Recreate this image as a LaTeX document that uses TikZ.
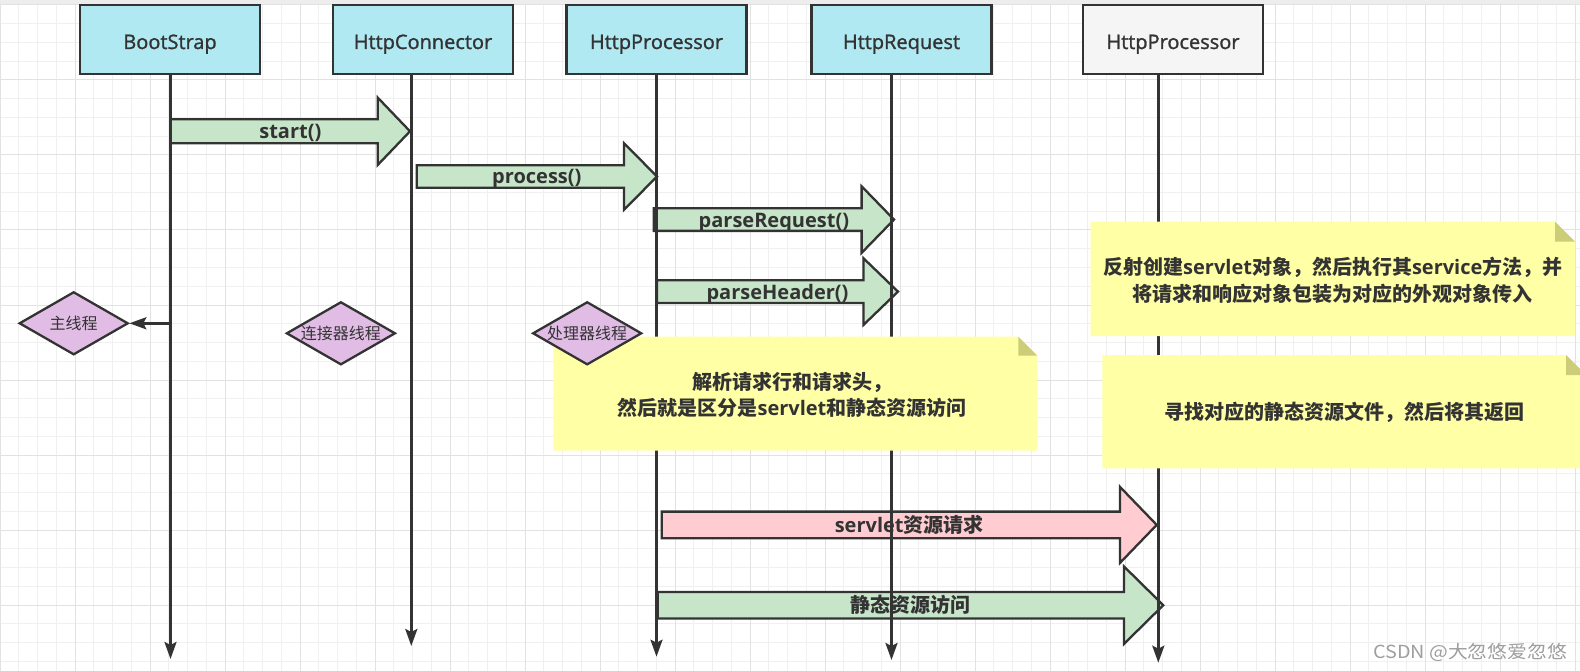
\documentclass[tikz,border=0pt]{standalone}
\usepackage{fontspec}
\setmainfont{Open Sans}
\newfontfamily\cjk{Noto Sans CJK SC}
\newfontfamily\boxlabelfont{Open Sans}[FakeBold=1.3]
\newfontfamily\wmfont{Noto Sans CJK SC}[FakeStretch=1.1]
\usetikzlibrary{arrows.meta,shapes.geometric}
\definecolor{cyanfill}{HTML}{B0E9F2}
\definecolor{greyfill}{HTML}{F5F5F5}
\definecolor{edge}{HTML}{333333}
\definecolor{txt}{HTML}{333333}
\definecolor{greenfill}{HTML}{C7E5C9}
\definecolor{pinkfill}{HTML}{FFCCD1}
\definecolor{purplefill}{HTML}{E1BDE6}
\definecolor{notefill}{HTML}{FFFFA6}
\definecolor{foldfill}{HTML}{CDCD79}
\definecolor{gridminor}{HTML}{F0F0F0}
\definecolor{gridmajor}{HTML}{E2E2E2}
\definecolor{topstrip}{HTML}{EDEDED}
\definecolor{wmcol}{HTML}{9E9E9E}
\newcommand{\zhs}[1]{{\cjk #1}}
% block arrow: #1 fill, #2 x start, #3 x head base, #4 x tip, #5 y centre, #6 bar half height, #7 head half height, #8 node name, #9 label
\newcommand{\blockarrow}[9]{%
  \draw[blockshape, fill=#1] (#2,#5-#6) -- (#3,#5-#6) -- (#3,#5-#7) -- (#4,#5) -- (#3,#5+#7) -- (#3,#5+#6) -- (#2,#5+#6) -- cycle;
  \node[arrlabel] (#8) at ({(#2+#4)/2},#5+7.5) {#9};}
% note: #1 x1, #2 y1, #3 x2, #4 y2, #5 fold
\newcommand{\notebg}[5]{%
  \fill[notefill] (#1,#2) -- (#3-#5,#2) -- (#3,#2+#5) -- (#3,#4) -- (#1,#4) -- cycle;
  \fill[foldfill] (#3-#5,#2) -- (#3-#5,#2+#5) -- (#3,#2+#5) -- cycle;}
\tikzset{
  box/.style={draw=edge, line width=2.3pt, minimum width=180pt, minimum height=69pt, inner sep=0pt,
    text=txt, font=\boxlabelfont\fontsize{20}{24}\selectfont, text height=19pt, text depth=0pt},
  lifeline/.style={draw=edge, line width=2.6pt, -{Stealth[length=17pt,width=12pt,inset=3pt]}},
  blockshape/.style={draw=edge, line width=2.3pt, line join=miter},
  arrlabel/.style={text=txt, font=\fontsize{20}{24}\selectfont\bfseries, inner sep=0pt, anchor=base},
  decision/.style={diamond, draw=edge, line width=2.3pt, fill=purplefill, minimum width=109pt, minimum height=63pt, inner sep=0pt},
  dtext/.style={text=txt, font=\cjk\fontsize{16}{18}\selectfont, inner sep=0pt},
  notetext/.style={text=txt, font=\fontsize{20}{26.7}\selectfont\bfseries, align=center, inner sep=0pt},
}
\begin{document}
\begin{tikzpicture}[x=1pt,y=-1pt]
\useasboundingbox (0,0) rectangle (1580,671);
\fill[white] (0,0) rectangle (1580,671);
% grid
\foreach \i in {0,...,84} \draw[gridminor, line width=1pt] (\i*18.75,5) -- (\i*18.75,671);
\foreach \j in {0,...,36} \draw[gridminor, line width=1pt] (0,5+\j*18.75) -- (1580,5+\j*18.75);
\foreach \i in {0,...,21} \draw[gridmajor, line width=1pt] (\i*75,5) -- (\i*75,671);
\foreach \j in {0,...,9} \draw[gridmajor, line width=1pt] (0,5+\j*75) -- (1580,5+\j*75);
\fill[topstrip] (0,0) rectangle (1580,4);

% participant boxes
\node[box, fill=cyanfill] (bs) at (170,39.5) {BootStrap};
\node[box, fill=cyanfill] (hc) at (423,39.5) {HttpConnector};
\node[box, fill=cyanfill] (hp) at (656.5,39.5) {HttpProcessor};
\node[box, fill=cyanfill] (hr) at (901.5,39.5) {HttpRequest};
\node[box, fill=greyfill] (hp2) at (1173,39.5) {HttpProcessor};

% block arrows (messages)
\blockarrow{greenfill}{170.7}{377.7}{410}{131.3}{12}{33.7}{mstart}{start()}
\blockarrow{greenfill}{416.7}{624}{657}{176.5}{11.3}{33.3}{mprocess}{process()}
\blockarrow{greenfill}{653.8}{861.6}{894}{219.6}{11.3}{33.3}{mparsereq}{parseRequest()}
\blockarrow{greenfill}{657}{863.5}{898}{291.6}{11.3}{33.3}{mparsehead}{parseHeader()}
\blockarrow{pinkfill}{661.7}{1120}{1156.7}{524.9}{13.3}{38}{mservlet}{servlet\zhs{资源请求}}
\blockarrow{greenfill}{657.7}{1124}{1163.3}{605.2}{13.3}{38.7}{mstatic}{\zhs{静态资源访问}}

% lifelines
\coordinate (bsTop) at (170.5,74);   \coordinate (bsEnd) at (170.5,659);
\coordinate (hcTop) at (411.3,74);   \coordinate (hcEnd) at (411.3,646);
\coordinate (hpTop) at (656.5,74);   \coordinate (hpEnd) at (656.5,656.7);
\coordinate (hrTop) at (891.5,74);   \coordinate (hrEnd) at (891.5,660);
\coordinate (hp2Top) at (1158.3,74); \coordinate (hp2End) at (1158.3,662.7);
\draw[lifeline] (bsTop) -- (bsEnd);
\draw[lifeline] (hcTop) -- (hcEnd);
\draw[lifeline] (hpTop) -- (hpEnd);
\draw[lifeline] (hrTop) -- (hrEnd);
\draw[lifeline] (hp2Top) -- (hp2End);

% notes
\notebg{1090.7}{221.7}{1575}{336}{20}
\node[notetext] (note1) at (1332.8,280) {\zhs{反射创建}servlet\zhs{对象，然后执行其}service\zhs{方法，并}\\ \zhs{将请求和响应对象包装为对应的外观对象传入}};
\notebg{1102.3}{355}{1586}{468.3}{20}
\node[notetext] (note2) at (1344,412.3) {\zhs{寻找对应的静态资源文件，然后将其返回}};
\notebg{553.3}{336.7}{1037.3}{450.7}{19}
\node[notetext] (note3) at (792,395) {\zhs{解析请求行和请求头，}\\ \zhs{然后就是区分是}servlet\zhs{和静态资源访问}};

% thread diamonds
\node[decision] (main) at (73.7,323.3) {};
\node[dtext] (mainlbl) at (main.center) {主线程};
\node[decision] (conn) at (340.9,333.3) {};
\node[dtext] (connlbl) at (conn.center) {连接器线程};
\node[decision] (proc) at (587.2,333.3) {};
\node[dtext] (proclbl) at (proc.center) {处理器线程};
\coordinate (mainFrom) at (170.5,323.3);
\draw[lifeline] (mainFrom) -- (main.east);

% watermark
\node[anchor=west, text=wmcol, font=\wmfont\fontsize{18}{22}\selectfont, inner sep=0pt] (wm) at (1373,652) {CSDN @大忽悠爱忽悠};
\end{tikzpicture}
\end{document}
